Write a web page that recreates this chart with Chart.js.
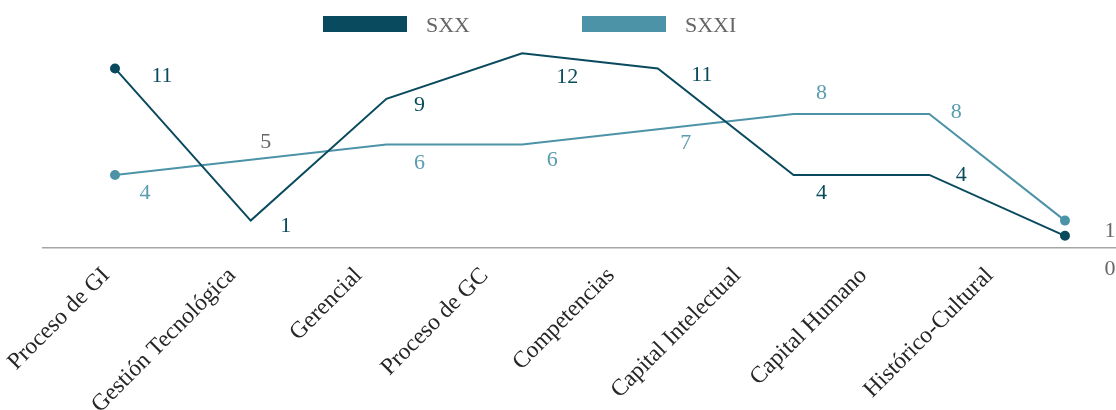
<!DOCTYPE html>
<html lang="es">
<head>
<meta charset="utf-8">
<title>SXX / SXXI</title>
<script src="https://cdn.jsdelivr.net/npm/chart.js@4.4.0/dist/chart.umd.min.js"></script>
<style>
  html, body { margin: 0; padding: 0; background: #fff; }
  #wrap { width: 1116px; height: 410px; position: relative; }
</style>
</head>
<body>
<div id="wrap"><canvas id="grafico"></canvas></div>
<script>
// Datos
const categorias = ['Proceso de GI', 'Gestión Tecnológica', 'Gerencial', 'Proceso de GC',
  'Competencias', 'Capital Intelectual', 'Capital Humano', 'Histórico-Cultural'];
const series = ['SXX', 'SXXI'];
const valoresSXX = [11, 1, 9, 12, 11, 4, 4, 0];
const valoresSXXI = [4, 5, 6, 6, 7, 8, 8, 1];

const COLOR_SXX = '#0a4a5e';
const COLOR_SXXI = '#4d93a8';
const GRIS = '#666666';
const FUENTE = "'Liberation Serif', 'DejaVu Serif', serif";

// Etiquetas de valor junto a cada punto (desplazamiento en px respecto al punto)
const etiquetasPlugin = {
  id: 'etiquetas',
  afterDatasetsDraw(chart, args, opts) {
    const ctx = chart.ctx;
    ctx.save();
    ctx.font = opts.font;
    ctx.textAlign = 'center';
    ctx.textBaseline = 'middle';
    chart.data.datasets.forEach((ds, di) => {
      const meta = chart.getDatasetMeta(di);
      meta.data.forEach((pt, i) => {
        const off = opts.offsets[di][i];
        ctx.fillStyle = opts.grises[di].includes(i) ? GRIS : opts.colores[di];
        ctx.fillText(String(ds.data[i].y), pt.x + off[0], pt.y + off[1]);
      });
    });
    ctx.restore();
  }
};

// Leyenda superior: barra de color + nombre
const leyendaPlugin = {
  id: 'leyenda',
  afterDraw(chart, args, opts) {
    const ctx = chart.ctx;
    ctx.save();
    ctx.font = opts.font;
    ctx.textBaseline = 'alphabetic';
    chart.data.datasets.forEach((ds, i) => {
      const x = opts.x + i * opts.paso;
      ctx.fillStyle = ds.borderColor;
      ctx.fillRect(x, opts.y, opts.ancho, opts.alto);
      ctx.fillStyle = GRIS;
      ctx.fillText(ds.label, x + opts.ancho + 19, opts.y + opts.alto);
    });
    ctx.restore();
  }
};

const puntos = arr => arr.map((v, i) => ({ x: i, y: v }));
const soloExtremos = ctx => (ctx.dataIndex === 0 || ctx.dataIndex === categorias.length - 1) ? 4 : 0;

new Chart(document.getElementById('grafico'), {
  type: 'line',
  data: {
    datasets: [
      {
        label: series[0],
        data: puntos(valoresSXX),
        xAxisID: 'x2',
        borderColor: COLOR_SXX,
        backgroundColor: COLOR_SXX,
        borderWidth: 2,
        pointRadius: soloExtremos,
        tension: 0
      },
      {
        label: series[1],
        data: puntos(valoresSXXI),
        xAxisID: 'x2',
        borderColor: COLOR_SXXI,
        backgroundColor: COLOR_SXXI,
        borderWidth: 2,
        pointRadius: soloExtremos,
        tension: 0
      }
    ]
  },
  options: {
    responsive: true,
    maintainAspectRatio: false,
    animation: false,
    layout: { autoPadding: false, padding: { left: 43, right: 0, top: 38, bottom: 0 } },
    plugins: {
      legend: { display: false },
      tooltip: { enabled: false },
      etiquetas: {
        font: '22px ' + FUENTE,
        colores: [COLOR_SXX, '#5b9cb0'],
        grises: [[7], [1, 7]],
        offsets: [
          [[47, 8], [35, 6], [33, 6], [45, 24], [44, 7], [28, 18], [32, 0], [45, 33]],
          [[30, 18], [15, -18], [33, 19], [30, 16], [28, 14], [28, -21], [27, -2], [45, 11]]
        ]
      },
      leyenda: { font: '22px ' + FUENTE, x: 323, y: 16, ancho: 84, alto: 16, paso: 259 }
    },
    scales: {
      // eje de categorías (solo rótulos y línea base)
      x: {
        type: 'linear',
        position: 'bottom',
        min: -0.5,
        max: 8.0,
        afterBuildTicks: s => { s.ticks = categorias.map((_, i) => ({ value: i })); },
        afterFit: s => { s.height = 162; s.paddingLeft = 0; s.paddingRight = 0; },
        grid: { display: false, drawTicks: false },
        border: { display: true, color: '#a6a6a6', width: 1.5 },
        ticks: {
          autoSkip: false,
          minRotation: 45,
          maxRotation: 45,
          padding: 14,
          color: '#262626',
          font: { family: FUENTE, size: 23.5 },
          callback: v => categorias[v] ?? ''
        }
      },
      // eje de las series
      x2: {
        type: 'linear',
        display: false,
        min: -0.5305,
        max: 7.376
      },
      y: {
        display: false,
        min: -0.8,
        max: 13
      }
    }
  },
  plugins: [etiquetasPlugin, leyendaPlugin]
});
</script>
</body>
</html>
